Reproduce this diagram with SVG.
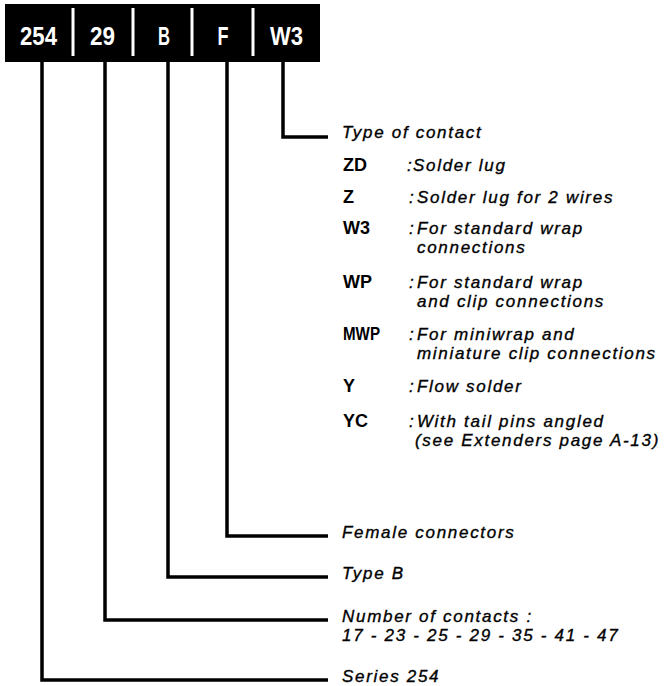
<svg xmlns="http://www.w3.org/2000/svg" width="668" height="686" viewBox="0 0 668 686">
<style>
.code{font-family:"Liberation Sans",Arial,sans-serif;font-weight:bold;font-size:26px;fill:#fff;text-anchor:middle}
.sep{stroke:#fff;stroke-width:3}
.conn{fill:none;stroke:#000;stroke-width:3.5;stroke-linejoin:miter;stroke-linecap:butt}
.lbl{font-family:"Liberation Sans",Arial,sans-serif;font-style:italic;font-size:17px;letter-spacing:1.7px;fill:#000;stroke:#000;stroke-width:0.35px}
.key{font-family:"Liberation Sans",Arial,sans-serif;font-weight:bold;font-size:18px;fill:#000}
</style>
<rect width="668" height="686" fill="#fff"/>
<g id="bar">
<rect x="5" y="4" width="315" height="58" fill="#000"/>
<line class="sep" x1="73" y1="8" x2="73" y2="56"/>
<line class="sep" x1="133" y1="8" x2="133" y2="56"/>
<line class="sep" x1="192" y1="8" x2="192" y2="56"/>
<line class="sep" x1="253" y1="8" x2="253" y2="56"/>
<text class="code" x="38.5" y="45" textLength="37" lengthAdjust="spacingAndGlyphs">254</text>
<text class="code" x="102.5" y="45" textLength="25" lengthAdjust="spacingAndGlyphs">29</text>
<text class="code" x="164" y="45" textLength="12" lengthAdjust="spacingAndGlyphs">B</text>
<text class="code" x="223" y="45" textLength="11" lengthAdjust="spacingAndGlyphs">F</text>
<text class="code" x="286.5" y="45" textLength="33" lengthAdjust="spacingAndGlyphs">W3</text>
</g>
<g id="connectors">
<polyline class="conn" points="283,62 283,137 328,137"/>
<polyline class="conn" points="227,62 227,536 328,536"/>
<polyline class="conn" points="168,62 168,577 328,577"/>
<polyline class="conn" points="105,62 105,620 328,620"/>
<polyline class="conn" points="42,62 42,680 328,680"/>
</g>
<g id="contact-type">
<text class="lbl" x="342" y="138">Type of contact</text>
<text class="key" x="343" y="171">ZD</text>
<text class="lbl" x="407" y="171">:<tspan x="413">Solder lug</tspan></text>
<text class="key" x="343" y="203">Z</text>
<text class="lbl" x="409" y="203">:<tspan x="417">Solder lug for 2 wires</tspan></text>
<text class="key" x="343" y="234">W3</text>
<text class="lbl" x="409" y="234">:<tspan x="417">For standard wrap</tspan><tspan x="417" y="253">connections</tspan></text>
<text class="key" x="343" y="288">WP</text>
<text class="lbl" x="409" y="288">:<tspan x="417">For standard wrap</tspan><tspan x="417" y="307">and clip connections</tspan></text>
<text class="key" x="343" y="340" textLength="37" lengthAdjust="spacingAndGlyphs">MWP</text>
<text class="lbl" x="409" y="340">:<tspan x="417">For miniwrap and</tspan><tspan x="417" y="359">miniature clip connections</tspan></text>
<text class="key" x="343" y="392">Y</text>
<text class="lbl" x="409" y="392">:<tspan x="417">Flow solder</tspan></text>
<text class="key" x="343" y="427">YC</text>
<text class="lbl" x="409" y="427">:<tspan x="417">With tail pins angled</tspan><tspan x="415" y="446">(see Extenders page A-13)</tspan></text>
</g>
<g id="female"><text class="lbl" x="342" y="538">Female connectors</text></g>
<g id="typeb"><text class="lbl" x="342" y="579">Type B</text></g>
<g id="contacts"><text class="lbl" x="342" y="622">Number of contacts :<tspan x="342" y="641">17 - 23 - 25 - 29 - 35 - 41 - 47</tspan></text></g>
<g id="series"><text class="lbl" x="342" y="682">Series 254</text></g>
</svg>
